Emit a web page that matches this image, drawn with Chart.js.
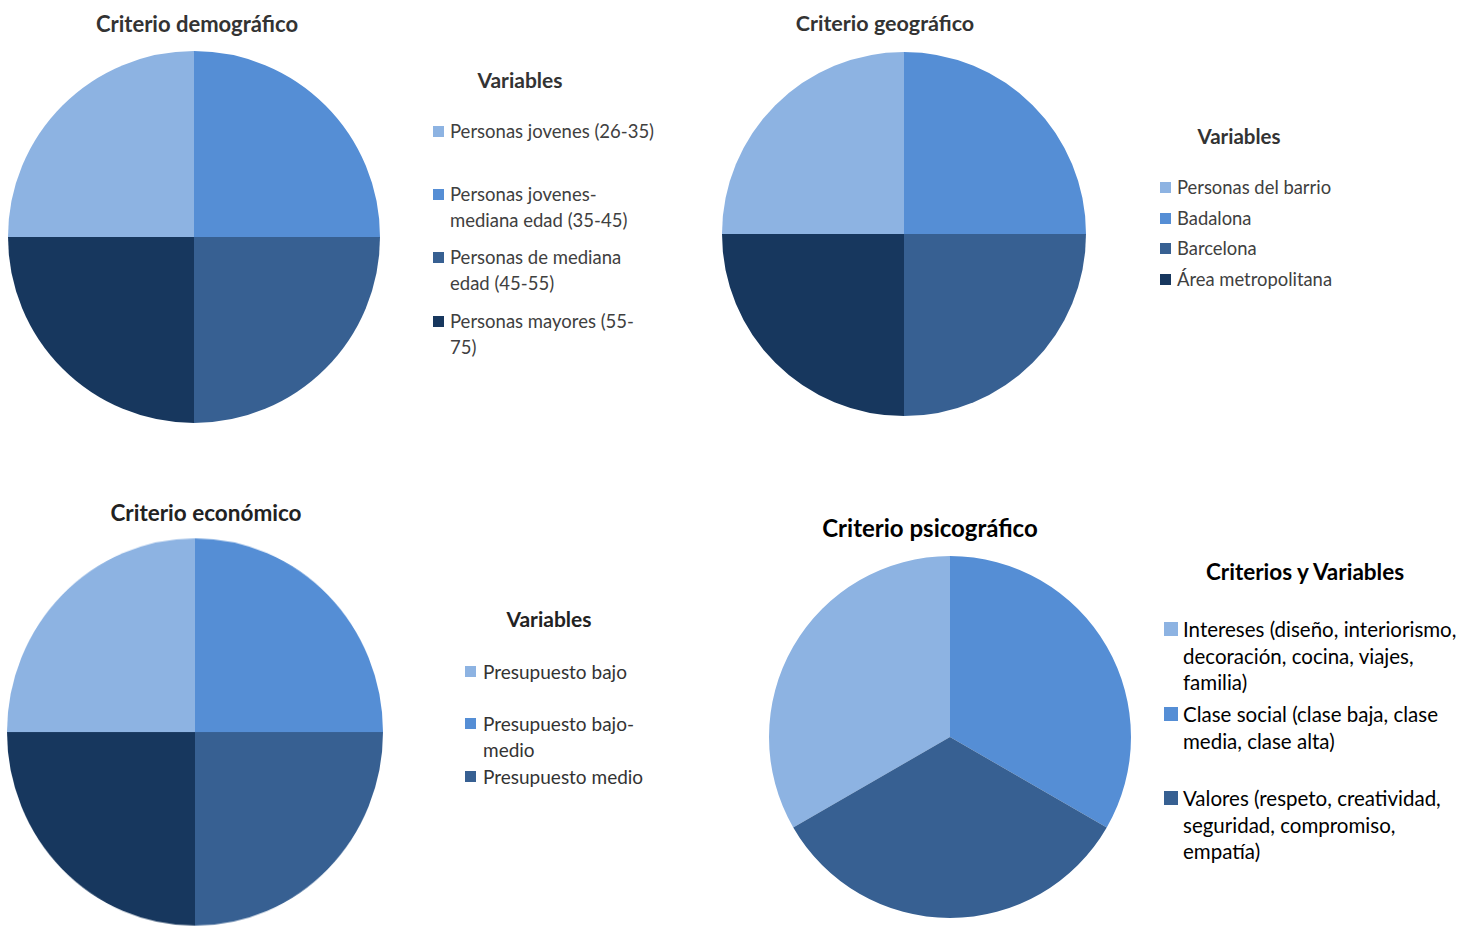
<!DOCTYPE html>
<html>
<head>
<meta charset="utf-8">
<script src="https://cdn.jsdelivr.net/npm/chart.js@4"></script>
<style>
  html, body { margin:0; padding:0; background:#fff; }
  body { width:1476px; height:927px; position:relative; overflow:hidden; font-family:Lato, "Open Sans", sans-serif; }
  .abs { position:absolute; white-space:nowrap; }
  .title { font-weight:bold; transform:translate(-50%,-50%); }
  canvas { position:absolute; }
  .sq { position:absolute; }
  .line { position:absolute; white-space:nowrap; transform:translateY(-50%); }
</style>
</head>
<body>
<script>
// ---------- DATA ----------
const colors = ['#8DB3E2', '#558ED5', '#376092', '#17375E'];

const demoTitle = 'Criterio demográfico';
const demoLegendTitle = 'Variables';
const demoLabels = [
  ['Personas jovenes (26-35)'],
  ['Personas jovenes-', 'mediana edad (35-45)'],
  ['Personas de mediana', 'edad (45-55)'],
  ['Personas mayores (55-', '75)']
];
const demoValues = [25, 25, 25, 25];

const geoTitle = 'Criterio geográfico';
const geoLegendTitle = 'Variables';
const geoLabels = [['Personas del barrio'], ['Badalona'], ['Barcelona'], ['Área metropolitana']];
const geoValues = [25, 25, 25, 25];

const ecoTitle = 'Criterio económico';
const ecoLegendTitle = 'Variables';
const ecoLabels = [['Presupuesto bajo'], ['Presupuesto bajo-', 'medio'], ['Presupuesto medio'], ['Presupuesto alto']];
const ecoValues = [25, 25, 25, 25];
const ecoLegendShown = 3;

const psiTitle = 'Criterio psicográfico';
const psiLegendTitle = 'Criterios y Variables';
const psiLabels = [
  ['Intereses (diseño, interiorismo,', 'decoración, cocina, viajes,', 'familia)'],
  ['Clase social (clase baja, clase', 'media, clase alta)'],
  ['Valores (respeto, creatividad,', 'seguridad, compromiso,', 'empatía)']
];
const psiValues = [1, 1, 1];

// ---------- LAYOUT ----------
const panels = [
  { title: demoTitle, labels: demoLabels, values: demoValues, shown: 4,
    titlePos: [197, 23], titleSize: 22, titleColor: '#333',
    cx: 194, cy: 237, r: 186, sy: 1, rotation: 270,
    legTitle: demoLegendTitle, legTitlePos: [520, 79], legTitleSize: 21,
    sqX: 433, sqSize: 11, textX: 450, fontSize: 18.5, color: '#404040', lineH: 25.5,
    itemY: [131, 194, 257, 321] },
  { title: geoTitle, labels: geoLabels, values: geoValues, shown: 4,
    titlePos: [885, 23], titleSize: 21.5, titleColor: '#333',
    cx: 904, cy: 234, r: 182, sy: 1, rotation: 270,
    legTitle: geoLegendTitle, legTitlePos: [1239, 136], legTitleSize: 20.5,
    sqX: 1160, sqSize: 11, textX: 1177, fontSize: 18.4, color: '#404040', lineH: 25.5,
    itemY: [187, 218, 248, 279] },
  { title: ecoTitle, labels: ecoLabels, values: ecoValues, shown: ecoLegendShown,
    titlePos: [206, 512], titleSize: 22.5, titleColor: '#222',
    cx: 195, cy: 732, r: 188, sy: 1.03, rotation: 270,
    legTitle: ecoLegendTitle, legTitlePos: [549, 618], legTitleSize: 21,
    sqX: 465, sqSize: 11, textX: 483, fontSize: 19, color: '#333', lineH: 26,
    itemY: [671, 723, 776] },
  { title: psiTitle, labels: psiLabels, values: psiValues, shown: 3,
    titlePos: [930, 527], titleSize: 24, titleColor: '#000',
    cx: 950, cy: 737, r: 181, sy: 1, rotation: 240,
    legTitle: psiLegendTitle, legTitlePos: [1305, 571], legTitleSize: 22.5,
    sqX: 1164, sqSize: 14, textX: 1183, fontSize: 20.5, color: '#000', lineH: 26.5,
    itemY: [629, 714, 798] }
];

function div(cls, text, style) {
  const d = document.createElement('div');
  d.className = cls;
  if (text != null) d.textContent = text;
  Object.assign(d.style, style);
  document.body.appendChild(d);
  return d;
}

panels.forEach((p) => {
  div('abs title', p.title, { left: p.titlePos[0] + 'px', top: p.titlePos[1] + 'px',
    fontSize: p.titleSize + 'px', color: p.titleColor });
  const c = document.createElement('canvas');
  c.width = 2 * p.r; c.height = 2 * p.r;
  c.style.left = (p.cx - p.r) + 'px'; c.style.top = (p.cy - p.r) + 'px';
  c.style.width = 2 * p.r + 'px'; c.style.height = 2 * p.r + 'px';
  c.style.transformOrigin = '50% 50%';
  c.style.transform = 'scaleY(' + p.sy + ')';
  document.body.appendChild(c);
  new Chart(c, {
    type: 'pie',
    data: {
      labels: p.labels.map(l => l.join(' ')),
      datasets: [{ data: p.values, backgroundColor: colors.slice(0, p.values.length), borderWidth: 0 }]
    },
    options: {
      responsive: false, animation: false, rotation: p.rotation,
      layout: { padding: 0 },
      plugins: { legend: { display: false }, title: { display: false }, tooltip: { enabled: false } }
    }
  });
  div('abs title', p.legTitle, { left: p.legTitlePos[0] + 'px', top: p.legTitlePos[1] + 'px',
    fontSize: p.legTitleSize + 'px', color: p.titleColor });
  for (let i = 0; i < p.shown; i++) {
    const y0 = p.itemY[i];
    div('sq', null, { left: p.sqX + 'px', top: (y0 - p.sqSize / 2) + 'px', width: p.sqSize + 'px',
      height: p.sqSize + 'px', background: colors[i] });
    p.labels[i].forEach((t, j) => {
      div('line', t, { left: p.textX + 'px', top: (y0 + j * p.lineH) + 'px', fontSize: p.fontSize + 'px',
        color: p.color });
    });
  }
});
</script>
</body>
</html>
